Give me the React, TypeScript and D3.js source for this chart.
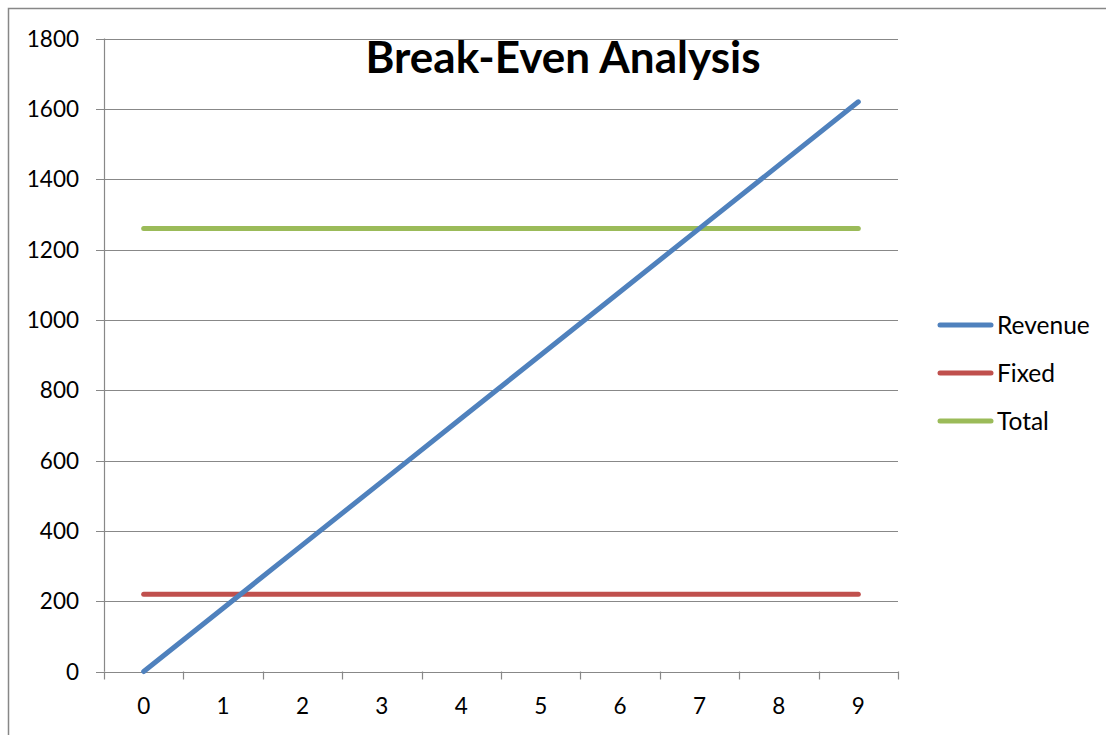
import React, { useEffect, useRef } from "react";
import * as d3 from "d3";

const categories = [0, 1, 2, 3, 4, 5, 6, 7, 8, 9];
const revenue = [0, 180, 360, 540, 720, 900, 1080, 1260, 1440, 1620];
const fixed = [220, 220, 220, 220, 220, 220, 220, 220, 220, 220];
const total = [1260, 1260, 1260, 1260, 1260, 1260, 1260, 1260, 1260, 1260];
const yTicks = [0, 200, 400, 600, 800, 1000, 1200, 1400, 1600, 1800];
const seriesNames = ["Revenue", "Fixed", "Total"];
const seriesColors = ["#4F81BD", "#C0504D", "#9BBB59"];
const title = "Break-Even Analysis";

const W = 1106;
const H = 735;
const FONT = "Lato, 'Open Sans', sans-serif";

export default function App() {
  const ref = useRef<SVGSVGElement>(null);
  useEffect(() => {
    const svg = d3.select(ref.current);
    svg.selectAll("*").remove();
    const left = 104, right = 898, top = 38.5, bottom = 671.5;
    const x = d3.scaleBand<number>().domain(categories).range([left, right]);
    const y = d3.scaleLinear().domain([0, 1800]).range([bottom, top]);

    svg.append("rect").attr("width", W).attr("height", H).attr("fill", "#fff");
    // outer border
    svg.append("path")
      .attr("d", `M8.5,${H + 5} V8.5 H${W + 5}`)
      .attr("fill", "none").attr("stroke", "#878787").attr("stroke-width", 1.5);

    // gridlines
    svg.append("g").selectAll("line").data(yTicks).join("line")
      .attr("x1", left - 8).attr("x2", right)
      .attr("y1", (d) => Math.round(y(d)) + 0.5).attr("y2", (d) => Math.round(y(d)) + 0.5)
      .attr("stroke", "#888").attr("stroke-width", 1.2);
    // y axis
    svg.append("line").attr("x1", left + 0.5).attr("x2", left + 0.5)
      .attr("y1", top).attr("y2", bottom).attr("stroke", "#888").attr("stroke-width", 1.2);
    svg.append("g").selectAll("text").data(yTicks).join("text")
      .attr("x", 79).attr("y", (d) => y(d)).attr("dy", "0.36em")
      .attr("text-anchor", "end").attr("font-family", FONT).attr("font-size", 22.5)
      .attr("fill", "#000").text((d) => d);
    // x ticks
    const edges = categories.map((c) => x(c)!).concat([right]);
    svg.append("g").selectAll("line").data(edges).join("line")
      .attr("x1", (d) => Math.round(d) + 0.5).attr("x2", (d) => Math.round(d) + 0.5)
      .attr("y1", bottom).attr("y2", bottom + 8)
      .attr("stroke", "#888").attr("stroke-width", 1.2);
    svg.append("g").selectAll("text").data(categories).join("text")
      .attr("x", (d) => x(d)! + x.bandwidth() / 2).attr("y", 706).attr("dy", "0.36em")
      .attr("text-anchor", "middle").attr("font-family", FONT).attr("font-size", 22.5)
      .attr("fill", "#000").text((d) => d);

    const seriesData = [revenue, fixed, total];
    const line = d3.line<number>()
      .x((_, i) => x(categories[i])! + x.bandwidth() / 2)
      .y((d) => y(d));
    [2, 1, 0].forEach((si) => {
      svg.append("path").datum(seriesData[si]).attr("d", line)
        .attr("fill", "none").attr("stroke", seriesColors[si])
        .attr("stroke-width", 5).attr("stroke-linecap", "round").attr("stroke-linejoin", "round");
    });

    // title
    svg.append("text").attr("x", 563).attr("y", 73).attr("text-anchor", "middle")
      .attr("font-family", FONT).attr("font-weight", "bold").attr("font-size", 44)
      .attr("fill", "#000").text(title);

    // legend
    const lg = svg.append("g");
    seriesNames.forEach((name, i) => {
      const ly = 325 + i * 48;
      lg.append("line").attr("x1", 940).attr("x2", 991).attr("y1", ly).attr("y2", ly)
        .attr("stroke", seriesColors[i]).attr("stroke-width", 5).attr("stroke-linecap", "round");
      lg.append("text").attr("x", 997).attr("y", ly).attr("dy", "0.36em")
        .attr("font-family", FONT).attr("font-size", 24.5).attr("fill", "#000").text(name);
    });
  }, []);
  return (
    <svg ref={ref} width={W} height={H}
      style={{ position: "absolute", left: 0, top: 0, display: "block" }} />
  );
}
